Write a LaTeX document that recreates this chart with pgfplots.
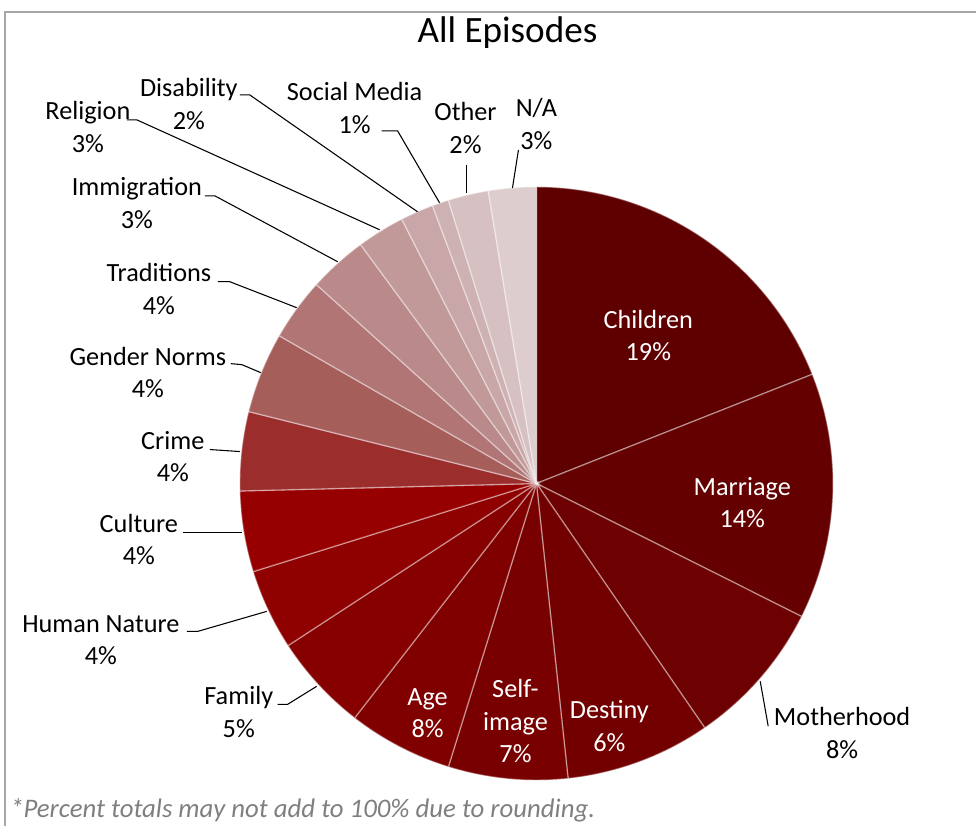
\documentclass[border=0pt]{standalone}
\usepackage{pgfplots}
\pgfplotsset{compat=1.18}
\usepackage{pgfplotstable}
\usepackage{fontspec}
\setmainfont{Carlito}

% slice colours, dark to light
\definecolor{s1}{HTML}{5E0000}
\definecolor{s2}{HTML}{640000}
\definecolor{s3}{HTML}{6D0000}
\definecolor{s4}{HTML}{730000}
\definecolor{s5}{HTML}{790000}
\definecolor{s6}{HTML}{800000}
\definecolor{s7}{HTML}{870000}
\definecolor{s8}{HTML}{8F0000}
\definecolor{s9}{HTML}{970000}
\definecolor{s10}{HTML}{9B2D2D}
\definecolor{s11}{HTML}{A65E5B}
\definecolor{s12}{HTML}{B07574}
\definecolor{s13}{HTML}{B98A89}
\definecolor{s14}{HTML}{C29999}
\definecolor{s15}{HTML}{C9A6A8}
\definecolor{s16}{HTML}{CEB1B3}
\definecolor{s17}{HTML}{D6C0C2}
\definecolor{s18}{HTML}{DDCDCF}
\definecolor{framec}{HTML}{A6A6A6}
\definecolor{notec}{HTML}{7F7F7F}

% slice shares (%), clockwise from 12 o'clock
\pgfplotstableread{
share col
19.0 s1
13.4 s2
8.0  s3
7.9  s4
6.5  s5
5.7  s6
5.3  s7
4.4  s8
4.4  s9
4.3  s10
4.4  s11
3.4  s12
3.2  s13
2.6  s14
1.8  s15
0.9  s16
2.2  s17
2.6  s18
}\piedata

\tikzset{lab/.style={font=\fontsize{19.7}{24.5}\selectfont, align=center, inner sep=0pt},
         lead/.style={black, line width=0.8pt}}

\begin{document}
\begin{tikzpicture}
\begin{axis}[
   width=732.75pt, height=620.25pt, scale only axis,
   xmin=0, xmax=977, ymin=0, ymax=827, y dir=reverse,
   hide axis, clip=false,
]
\addplot[draw=none] coordinates {(0,0) (977,827)};

\pgfplotstablegetrowsof{\piedata}
\pgfmathtruncatemacro\lastrow{\pgfplotsretval-1}
\def\cum{0}
\pgfplotsforeachungrouped \i in {0,...,\lastrow}{%
  \pgfplotstablegetelem{\i}{share}\of\piedata \let\sh\pgfplotsretval
  \pgfplotstablegetelem{\i}{col}\of\piedata \let\cl\pgfplotsretval
  \pgfmathsetmacro\angA{90-3.6*\cum}
  \pgfmathsetmacro\angB{90-3.6*(\cum+\sh)}
  \edef\temp{\noexpand\filldraw[fill=\cl, draw=white, draw opacity=0.4, line width=1pt]
    (axis cs:537,484) -- ++(\angA:222.75pt)
    arc[start angle=\angA, end angle=\angB, radius=222.75pt] -- cycle;}
  \temp
  \pgfmathsetmacro\cum{\cum+\sh}
}

% frame
\draw[framec, line width=1.5pt] (axis cs:5,827) -- (axis cs:5,12) -- (axis cs:977,12);

% title and note
\node[font=\fontsize{27.9}{32}\selectfont] at (axis cs:508,33) {All Episodes};
\node[anchor=west, inner sep=0pt, font=\fontsize{20.1}{24}\selectfont\itshape, text=notec]
   at (axis cs:10,811) {*Percent totals may not add to 100\% due to rounding.};

% labels inside the slices
\node[lab, text=white] at (axis cs:649,336) {Children\\19\%};
\node[lab, text=white] at (axis cs:743,503) {Marriage\\14\%};
\node[lab, text=white] at (axis cs:610,727) {Destiny\\6\%};
\node[lab, text=white] at (axis cs:516,722) {Self-\\image\\7\%};
\node[lab, text=white] at (axis cs:428,714) {Age\\8\%};

% labels outside, with leader lines
\node[lab] at (axis cs:843,734) {Motherhood\\8\%};
\draw[lead] (axis cs:761,682) -- (axis cs:769,727);
\node[lab] at (axis cs:239,713) {Family\\5\%};
\draw[lead] (axis cs:278,705) -- (axis cs:288,705) -- (axis cs:317,687);
\node[lab] at (axis cs:101,641) {Human Nature\\4\%};
\draw[lead] (axis cs:187,632) -- (axis cs:198,632) -- (axis cs:267,612);
\node[lab] at (axis cs:139,540) {Culture\\4\%};
\draw[lead] (axis cs:183,533) -- (axis cs:242,533);
\node[lab] at (axis cs:173,457) {Crime\\4\%};
\draw[lead] (axis cs:210,450) -- (axis cs:240,452);
\node[lab] at (axis cs:148,373) {Gender Norms\\4\%};
\draw[lead] (axis cs:231,364) -- (axis cs:242,365) -- (axis cs:261,373);
\node[lab] at (axis cs:159,289) {Traditions\\4\%};
\draw[lead] (axis cs:218,282) -- (axis cs:230,282) -- (axis cs:297,308);
\node[lab] at (axis cs:137,203) {Immigration\\3\%};
\draw[lead] (axis cs:205,196) -- (axis cs:215,196) -- (axis cs:338,262);
\node[lab] at (axis cs:88,127) {Religion\\3\%};
\draw[lead] (axis cs:127,120) -- (axis cs:137,120) -- (axis cs:380,230);
\node[lab] at (axis cs:189,104) {Disability\\2\%};
\draw[lead] (axis cs:240,95) -- (axis cs:250,95) -- (axis cs:418,212);
\node[lab] at (axis cs:355,108) {Social Media\\1\%};
\draw[lead] (axis cs:382,131) -- (axis cs:398,131) -- (axis cs:440,203);
\node[lab] at (axis cs:466,128) {Other\\2\%};
\draw[lead] (axis cs:467,165) -- (axis cs:467,193);
\node[lab] at (axis cs:537,124) {N/A\\3\%};
\draw[lead] (axis cs:519,150) -- (axis cs:513,188);
\end{axis}
\end{tikzpicture}
\end{document}
